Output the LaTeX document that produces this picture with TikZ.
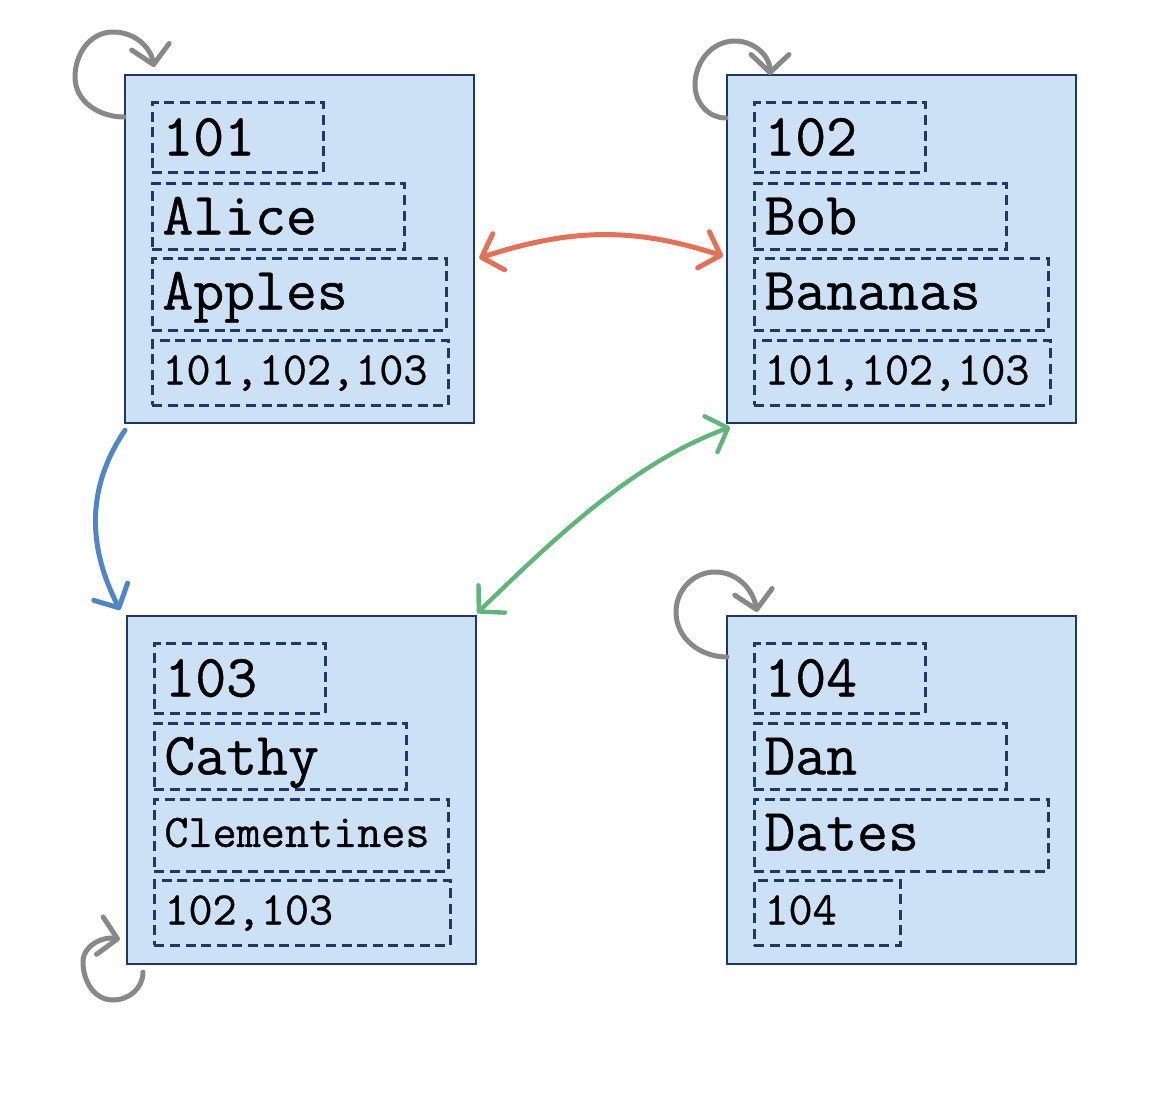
\documentclass[tikz,border=0pt]{standalone}
\usepackage{fontspec}
\newfontfamily\monofnt[FakeBold=0.7]{Latin Modern Mono}
\usetikzlibrary{arrows.meta,calc}
\definecolor{boxfill}{RGB}{204,224,246}
\definecolor{navy}{RGB}{31,56,100}
\definecolor{loopgray}{RGB}{136,136,136}
\definecolor{arrorange}{RGB}{228,112,85}
\definecolor{arrblue}{RGB}{79,134,198}
\definecolor{arrgreen}{RGB}{96,182,122}
\tikzset{
  hb/.tip={Straight Barb[length=9pt,width=19pt,line cap=round,line join=round]},
  record/.style={draw=navy, line width=1.1pt, fill=boxfill, minimum width=174.5pt,
    minimum height=174pt, anchor=north west, inner sep=0pt},
  field/.style={draw=navy, line width=1.4pt, dash pattern=on 5pt off 2.8pt,
    anchor=north west, inner xsep=5pt, inner ysep=0pt, align=left},
  bigtxt/.style={font=\monofnt\fontsize{30pt}{32pt}\selectfont, text height=19pt, text depth=1pt},
  bigdesc/.style={font=\monofnt\fontsize{30pt}{32pt}\selectfont, text height=19pt, text depth=4pt},
  smalltxt/.style={font=\monofnt\fontsize{23.4pt}{26pt}\selectfont, text height=14pt, text depth=2.5pt},
  fone/.style={field, bigtxt, text width=75.5pt, minimum height=35pt},
  ftwo/.style={field, bigtxt, text width=116pt, minimum height=33pt},
  fthree/.style={field, bigdesc, text width=137pt, minimum height=36pt},
  ffour/.style={field, smalltxt, text width=138pt, minimum height=32.5pt},
  hand/.style={line width=2.5pt, line cap=round, line join=round},
  loopline/.style={hand, loopgray, -hb},
}
\begin{document}
\begin{tikzpicture}[x=0.5pt,y=0.5pt]
\useasboundingbox (0,0) rectangle (1152,-1108);

% record boxes
\node[record] (A) at (124,-74) {};
\node[record] (B) at (726,-74) {};
\node[record] (C) at (126,-615) {};
\node[record] (D) at (726,-615) {};

% fields of A
\node[fone]   (a1) at ($(A.north west)+(27,-27)$)  {101};
\node[ftwo]   (a2) at ($(A.north west)+(27,-108)$) {Alice};
\node[fthree] (a3) at ($(A.north west)+(27,-183)$) {Apples};
\node[ffour]  (a4) at ($(A.north west)+(27,-265)$) {101,102,103};

% fields of B
\node[fone]   (b1) at ($(B.north west)+(27,-27)$)  {102};
\node[ftwo]   (b2) at ($(B.north west)+(27,-108)$) {Bob};
\node[fthree] (b3) at ($(B.north west)+(27,-183)$) {Bananas};
\node[ffour]  (b4) at ($(B.north west)+(27,-265)$) {101,102,103};

% fields of C
\node[fone]   (c1) at ($(C.north west)+(27,-27)$)  {103};
\node[ftwo]   (c2) at ($(C.north west)+(27,-107)$) {Cathy};
\node[field, smalltxt, text width=137pt, minimum height=36pt] (c3) at ($(C.north west)+(27,-183)$) {Clementines};
\node[ffour]  (c4) at ($(C.north west)+(27,-264)$) {102,103};

% fields of D
\node[fone]   (d1) at ($(D.north west)+(27,-27)$)  {104};
\node[ftwo]   (d2) at ($(D.north west)+(27,-107)$) {Dan};
\node[fthree] (d3) at ($(D.north west)+(27,-183)$) {Dates};
\node[field, smalltxt, text width=63pt, minimum height=32.5pt] (d4) at ($(D.north west)+(27,-264)$) {104};

% self loops
\draw[loopline] ($(A.north west)+(0,-43)$) to[out=180,in=-90] (75,-77)
  to[out=90,in=180] (113,-32) to[out=0,in=100] ($(A.north west)+(30,7)$);
\draw[loopline] ($(B.north west)+(0,-44)$) to[out=180,in=-90] (695,-85)
  to[out=90,in=180] (735,-41) to[out=0,in=90] ($(B.north west)+(44,-1)$);
\draw[loopline] ($(D.north west)+(1,-42)$) to[out=180,in=-90] (676,-612)
  to[out=90,in=180] (715,-572) to[out=0,in=100] ($(D.north west)+(31,3)$);
\draw[loopline] ($(C.south west)+(17,-7)$) to[out=-90,in=0] (113,-1000)
  to[out=180,in=-90] (83,-962) to[out=90,in=170] ($(C.south west)+(-6,26)$);

% connectors between records
\draw[hand, arrorange, hb-hb] ($(A.east)+(4,-9)$) to[out=18,in=162] ($(B.west)+(-3,-7)$);
\draw[hand, arrblue, -hb] ($(A.south west)+(1,-6)$) to[out=236,in=117] ($(C.north west)+(-6,5)$);
\draw[hand, line width=2.2pt, arrgreen, hb-hb] ($(C.north east)+(0,2)$) to[out=44,in=200,looseness=0.85] ($(B.south west)+(4,-3)$);
\end{tikzpicture}
\end{document}
